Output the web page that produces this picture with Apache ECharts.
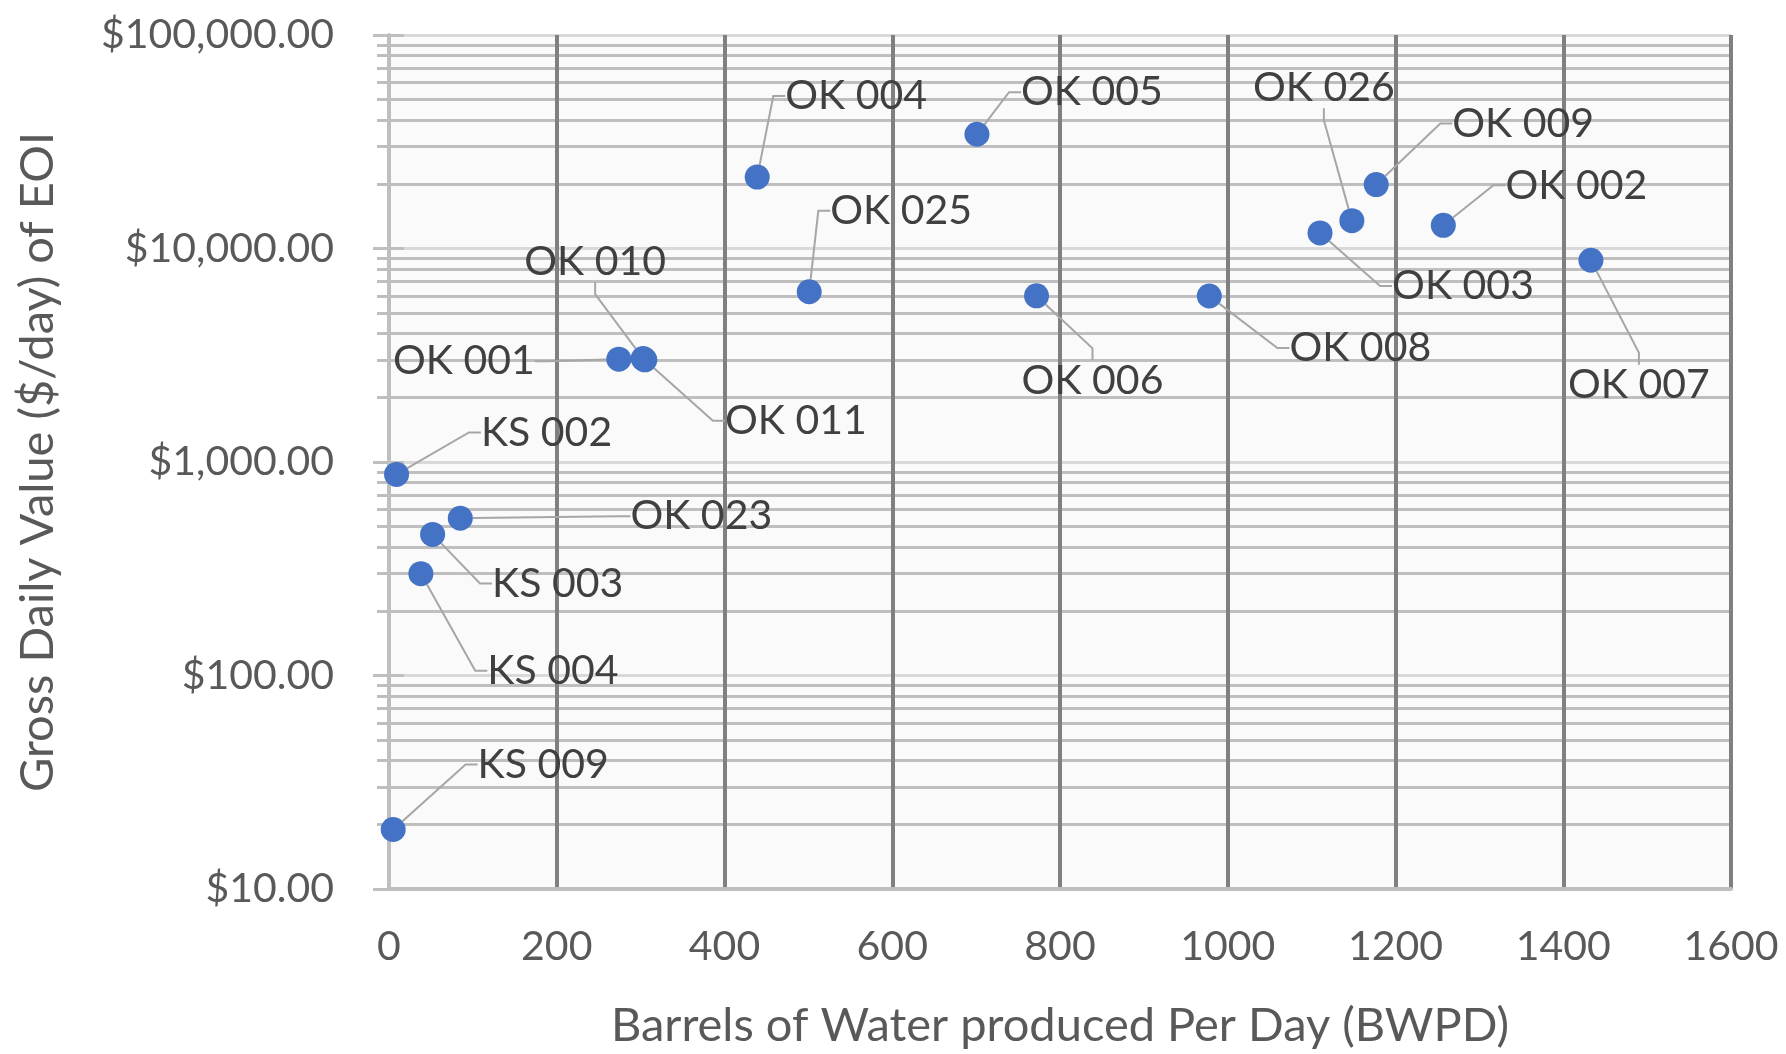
<!DOCTYPE html>
<html><head><meta charset="utf-8">
<script src="https://cdn.jsdelivr.net/npm/echarts@6/dist/echarts.min.js"></script>
<style>html,body{margin:0;padding:0;background:#fff}#c{width:1786px;height:1054px}</style>
</head><body><div id="c"></div>
<script>
// ---- data ----
const wellNames  = ['KS 009','KS 002','KS 004','KS 003','OK 023','OK 001','OK 010','OK 011','OK 004','OK 025','OK 005','OK 006','OK 008','OK 003','OK 026','OK 009','OK 002','OK 007'];
const waterBWPD  = [5, 9, 38, 52, 85, 274, 303, 305, 439, 501, 701, 772, 978, 1110, 1148, 1177, 1257, 1433];
const dailyValue = [19, 875, 300, 458, 545, 3030, 3050, 3010, 21600, 6270, 34300, 6000, 5990, 11830, 13500, 19930, 12840, 8810];
const xTickValues = [0, 200, 400, 600, 800, 1000, 1200, 1400, 1600];
const xTickLabels = ['0', '200', '400', '600', '800', '1000', '1200', '1400', '1600'];
const yTickValues = [10, 100, 1000, 10000, 100000];
const yTickLabels = ['$10.00', '$100.00', '$1,000.00', '$10,000.00', '$100,000.00'];
const xTitle = 'Barrels of Water produced Per Day (BWPD)';
const yTitle = 'Gross Daily Value ($/day) of EOI';

// ---- label placement (styling, pixel offsets from the marker) ----
const labelOffset = {
  'KS 009': [150, -65], 'KS 002': [150, -42], 'KS 004': [132, 97], 'KS 003': [125, 49],
  'OK 023': [241, -2], 'OK 001': [-155, 2], 'OK 010': [-48, -97], 'OK 011': [151, 61],
  'OK 004': [99, -81], 'OK 025': [92, -81], 'OK 005': [115, -42], 'OK 006': [56, 85],
  'OK 008': [151, 52], 'OK 003': [143, 53], 'OK 026': [-28, -133], 'OK 009': [147, -61],
  'OK 002': [133, -40], 'OK 007': [48, 125]
};

const FONT = 'Lato';
const chart = echarts.init(document.getElementById('c'), null, {renderer: 'canvas'});
const gridLeft = 389, gridRight = 55;
const gridWidth = 1786 - gridLeft - gridRight;

chart.setOption({
  animation: false,
  backgroundColor: '#ffffff',
  grid: {left: gridLeft, right: gridRight, top: 35, bottom: 161, show: true,
         backgroundColor: '#FAFAFA', borderWidth: 0},
  xAxis: {
    type: 'value', min: 0, max: 1600, interval: 200, z: 1,
    name: xTitle, nameLocation: 'middle', nameGap: 113,
    nameTextStyle: {fontFamily: FONT, fontSize: 47, color: '#595959'},
    axisLine: {show: true, lineStyle: {color: '#BFBFBF', width: 4}},
    axisTick: {show: false},
    axisLabel: {fontFamily: FONT, fontSize: 41, color: '#595959', margin: 37, lineHeight: 41,
      formatter: function (v) { const i = xTickValues.indexOf(Math.round(v)); return i >= 0 ? xTickLabels[i] : ''; }},
    splitLine: {show: true, showMinLine: false, lineStyle: {color: '#808080', width: 4}}
  },
  yAxis: [{
    type: 'log', logBase: 10, min: 10, max: 100000,
    name: yTitle, nameLocation: 'middle', nameGap: 328,
    nameTextStyle: {fontFamily: FONT, fontSize: 47, color: '#595959'},
    axisLine: {show: true, lineStyle: {color: '#BFBFBF', width: 4}},
    axisTick: {show: true, length: 16, lineStyle: {color: '#BFBFBF', width: 3}},
    minorTick: {show: true, splitNumber: 9, length: 12, lineStyle: {color: '#BFBFBF', width: 3}},
    axisLabel: {fontFamily: FONT, fontSize: 41, color: '#595959', margin: 55,
      padding: [0, 0, 14, 0],
      formatter: function (v) { const i = yTickValues.indexOf(Math.round(v)); return i >= 0 ? yTickLabels[i] : ''; }},
    splitLine: {show: true, lineStyle: {color: '#D9D9D9', width: 3}},
    minorSplitLine: {show: true, lineStyle: {color: '#BFBFBF', width: 3}}
  }, {
    type: 'log', logBase: 10, min: 10, max: 100000, position: 'right', offset: -gridWidth,
    axisLine: {show: false}, axisLabel: {show: false}, splitLine: {show: false},
    axisTick: {show: true, inside: false, length: 15, lineStyle: {color: '#BFBFBF', width: 3}}
  }],
  series: [{
    type: 'scatter',
    symbol: 'circle', symbolSize: 25,
    itemStyle: {color: '#4472C4', opacity: 1},
    data: wellNames.map((n, i) => ({name: n, value: [waterBWPD[i], dailyValue[i]]})),
    label: {show: true, position: 'inside', formatter: '{b}',
            fontFamily: FONT, fontSize: 41, color: '#404040'},
    labelLayout: function (p) {
      const o = labelOffset[wellNames[p.dataIndex]];
      return {dx: o[0], dy: o[1]};
    },
    labelLine: {show: true, length2: 12, lineStyle: {color: '#A6A6A6', width: 2}}
  }]
});
</script>
</body></html>
